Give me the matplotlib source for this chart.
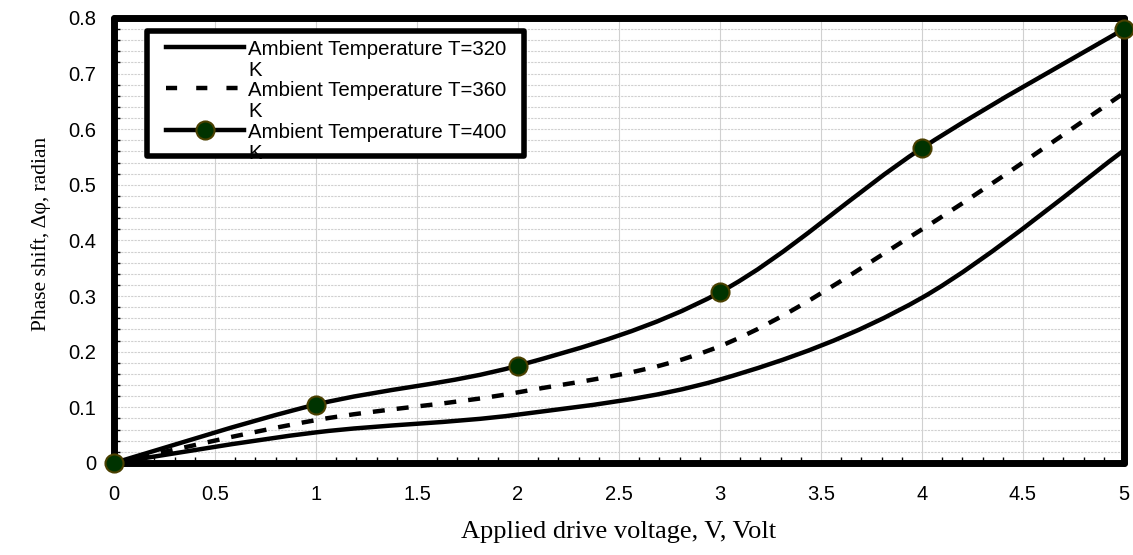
import matplotlib
matplotlib.use("Agg")
import matplotlib.pyplot as plt
import numpy as np
from matplotlib.path import Path
from matplotlib.patches import PathPatch, Rectangle
from matplotlib.lines import Line2D
from matplotlib.ticker import MultipleLocator

# data
voltage = [0, 1, 2, 3, 4, 5]
phase_320 = [0, 0.055, 0.087, 0.150, 0.297, 0.562]
phase_360 = [0, 0.077, 0.127, 0.210, 0.420, 0.665]
phase_400 = [0, 0.105, 0.175, 0.307, 0.566, 0.780]
x_ticklabels = ["0", "0.5", "1", "1.5", "2", "2.5", "3", "3.5", "4", "4.5", "5"]
y_ticklabels = ["0", "0.1", "0.2", "0.3", "0.4", "0.5", "0.6", "0.7", "0.8"]
labels = ["Ambient Temperature T=320\nK",
          "Ambient Temperature T=360\nK",
          "Ambient Temperature T=400\nK"]

SANS = "Liberation Sans"
SERIF = "Liberation Serif"
DASH = (0, (2.7, 2.7))


def smooth_path(x, y):
    # spreadsheet-style smoothed line: cubic bezier through the points
    pts = np.column_stack([x, y]).astype(float)
    n = len(pts)
    verts = [pts[0]]
    codes = [Path.MOVETO]
    for i in range(n - 1):
        p0 = pts[i - 1] if i > 0 else pts[i]
        p1 = pts[i]
        p2 = pts[i + 1]
        p3 = pts[i + 2] if i + 2 < n else pts[i + 1]
        c1 = p1 + (p2 - p0) / 6.0
        c2 = p2 - (p3 - p1) / 6.0
        verts += [c1, c2, p2]
        codes += [Path.CURVE4] * 3
    return Path(verts, codes)


def add_curve(ax, x, y, ls):
    patch = PathPatch(smooth_path(x, y), facecolor="none", edgecolor="black",
                      lw=3.2, linestyle=ls, capstyle="butt", zorder=3)
    ax.add_patch(patch)


fig = plt.figure(figsize=(11.33, 5.55), dpi=100)
ax = fig.add_axes([0.1006, 0.1658, 0.8914, 0.8018])

add_curve(ax, voltage, phase_320, "-")
add_curve(ax, voltage, phase_360, DASH)
add_curve(ax, voltage, phase_400, "-")
ax.plot(voltage, phase_400, ls="none", marker="o", ms=13,
        mfc="#003300", mec="#4a4000", mew=1.5, zorder=5, clip_on=False)

ax.set_xlim(0, 5)
ax.set_ylim(0, 0.8)
ax.xaxis.set_minor_locator(MultipleLocator(0.1))
ax.yaxis.set_minor_locator(MultipleLocator(0.02))
ax.set_xticks(np.arange(0, 5.01, 0.5))
ax.set_xticklabels(x_ticklabels)
ax.set_yticks(np.arange(0, 0.81, 0.1))
ax.set_yticklabels(y_ticklabels)

ax.grid(which="major", axis="x", color="#d0d0d0", lw=0.8)
ax.grid(which="both", axis="y", color="#d0d0d0", lw=0.8, ls=(0, (2, 1)))
ax.tick_params(which="both", direction="in", length=4, width=1)
ax.tick_params(which="major", length=0)
ax.tick_params(axis="x", which="major", pad=16)
ax.tick_params(axis="y", which="major", pad=13)
for lab in ax.get_xticklabels() + ax.get_yticklabels():
    lab.set_fontfamily(SANS)
    lab.set_fontsize(14.5)

for sp in ax.spines.values():
    sp.set_linewidth(5)
    sp.set_capstyle("round")
    sp.set_joinstyle("round")

ax.set_xlabel("Applied drive voltage, V, Volt", fontfamily=SERIF, fontsize=19,
              labelpad=12)
ax.set_ylabel("Phase shift, \u0394\u03c6, radian", fontfamily=SERIF, fontsize=15.5)
ax.yaxis.set_label_coords(-0.062, 0.515)

# legend box drawn by hand, text clipped at the frame like the original
box = Rectangle((0.033, 0.69), 0.373, 0.28, transform=ax.transAxes,
                facecolor="white", edgecolor="black", lw=4, zorder=6,
                joinstyle="round")
ax.add_patch(box)
clip = Rectangle((0.033, 0.69), 0.373, 0.28, transform=ax.transAxes,
                 facecolor="none", edgecolor="none")
ax.add_patch(clip)
rows = [0.935, 0.842, 0.748]
styles = ["-", (0, (2.5, 4.3)), "-"]
for k, yy in enumerate(rows):
    ln = Line2D([0.052, 0.129], [yy, yy], transform=ax.transAxes, color="black",
                lw=3.2, ls=styles[k], zorder=7)
    ax.add_line(ln)
    if k == 2:
        ax.plot([0.09], [yy], transform=ax.transAxes, marker="o", ms=13,
                mfc="#003300", mec="#4a4000", mew=1.5, zorder=8)
    t = ax.text(0.133, yy + 0.016, labels[k], transform=ax.transAxes,
                fontfamily=SANS, fontsize=14.7, va="top", ha="left",
                linespacing=1.15, zorder=8)
    t.set_clip_path(clip)

fig.savefig("out.png", dpi=100)
